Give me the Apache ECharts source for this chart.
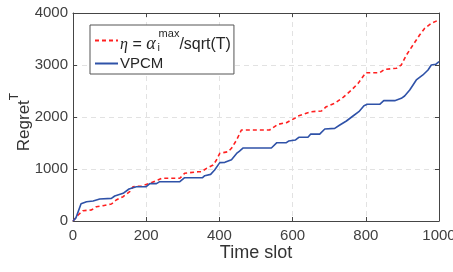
<!DOCTYPE html>
<html>
<head>
<meta charset="utf-8">
<script src="https://cdn.jsdelivr.net/npm/echarts@6/dist/echarts.min.js"></script>
<style>html,body{margin:0;padding:0;background:#fff;}#c{width:453px;height:272px;}</style>
</head>
<body>
<div id="c"></div>
<script>
var xTicks = [0, 200, 400, 600, 800, 1000];
var yTicks = [0, 1000, 2000, 3000, 4000];
var seriesNames = ['eta', 'VPCM'];

var etaX = [0,5,14,27,50,64,82,105,118,137,155,164,187,210,232,242,292,305,342,351,365,383,392,401,424,433,447,460,537,560,583,606,615,628,651,679,692,715,738,761,779,792,800,838,852,884,897,911,929,947,961,979,995,1000];
var etaY = [0,0,115,198,211,275,295,327,404,468,564,660,673,724,788,821,821,917,948,948,1013,1077,1173,1302,1333,1398,1558,1750,1750,1859,1891,1975,2019,2051,2102,2115,2198,2263,2378,2519,2647,2775,2852,2852,2917,2937,3000,3192,3385,3577,3705,3801,3852,3880];

var vpcmX = [0,8,22,37,55,73,105,114,137,153,173,200,210,228,237,292,305,354,360,376,387,401,415,419,433,447,455,465,542,557,583,589,608,617,642,649,674,688,715,729,747,765,781,786,795,804,838,849,879,897,906,920,938,956,970,979,991,1000];
var vpcmY = [0,60,330,370,385,423,436,481,533,615,660,660,718,718,756,756,833,833,872,897,980,1122,1128,1166,1180,1300,1346,1404,1404,1506,1506,1538,1558,1610,1610,1670,1670,1769,1782,1846,1923,2019,2102,2110,2217,2244,2244,2314,2314,2359,2404,2519,2712,2808,2904,3000,3013,3063];

function pairs(xs, ys) { return xs.map(function (x, i) { return [x, ys[i]]; }); }

var chart = echarts.init(document.getElementById('c'), null, {renderer: 'canvas'});
var font = 'Liberation Sans, Arial, Helvetica, sans-serif';
var serif = 'Liberation Serif, DejaVu Serif, serif';
var axisCol = '#454545';
var gridCol = '#e2e2e2';
var txt = '#262626';

function baseX(pos, show) {
  return {
    type: 'value', position: pos, min: xTicks[0], max: xTicks[xTicks.length - 1], interval: xTicks[1] - xTicks[0],
    axisLine: {show: true, onZero: false, lineStyle: {color: axisCol, width: 1}},
    axisTick: {show: true, inside: true, length: 4, lineStyle: {color: axisCol}},
    axisLabel: {show: show, color: '#404040', fontSize: 15, fontFamily: font, margin: 7,
      formatter: function (v) { return String(v); }},
    splitLine: {show: show, lineStyle: {color: gridCol, type: [5, 4], width: 1}}
  };
}
function baseY(pos, show) {
  return {
    type: 'value', position: pos, min: yTicks[0], max: yTicks[yTicks.length - 1], interval: yTicks[1] - yTicks[0],
    axisLine: {show: true, onZero: false, lineStyle: {color: axisCol, width: 1}},
    axisTick: {show: true, inside: true, length: 4, lineStyle: {color: axisCol}},
    axisLabel: {show: show, color: '#404040', fontSize: 15, fontFamily: font, margin: 5,
      formatter: function (v) { return String(v); }},
    splitLine: {show: show, lineStyle: {color: gridCol, type: [5, 4], width: 1}}
  };
}

var x0 = baseX('bottom', true);
x0.name = 'Time slot';
x0.nameLocation = 'middle';
x0.nameGap = 23;
x0.nameMoveOverlap = false;
x0.nameTextStyle = {color: '#333', fontSize: 18, fontFamily: font};
var x1 = baseX('top', false);

var y0 = baseY('left', true);
y0.name = '{a|Regret}{s|T}';
y0.nameLocation = 'middle';
y0.nameGap = 40;
y0.nameMoveOverlap = false;
y0.nameTextStyle = {
  color: '#333', fontFamily: font,
  rich: {
    a: {fontSize: 17, fontFamily: font, color: '#333', lineHeight: 24, verticalAlign: 'bottom'},
    s: {fontSize: 12, fontFamily: font, color: '#333', lineHeight: 24, verticalAlign: 'top', padding: [0, 10, 0, 0]}
  }
};
var y1 = baseY('right', false);

var etaLabel = '{t|η}{t2| = }{g|α}{sub|i}{sup|max}{t3|/sqrt(T)}';

var option = {
  animation: false,
  backgroundColor: '#fff',
  grid: {left: 73, right: 14, top: 13, bottom: 51, containLabel: false, outerBoundsMode: 'none'},
  xAxis: [x0, x1],
  yAxis: [y0, y1],
  legend: {
    orient: 'vertical', left: 90, top: 25,
    backgroundColor: '#fff', borderColor: '#555', borderWidth: 1, borderRadius: 0,
    padding: [3, 3, 3, 4], itemGap: 3, itemWidth: 23, itemHeight: 14,
    data: seriesNames,
    itemStyle: {opacity: 0},
    formatter: function (n) { return n === 'eta' ? etaLabel : n; },
    textStyle: {
      color: txt, fontSize: 15, fontFamily: font, padding: [0, 0, 0, -3],
      rich: {
        t: {fontSize: 16, fontFamily: serif, fontStyle: 'italic', color: txt, lineHeight: 25, verticalAlign: 'bottom'},
        t2: {fontSize: 16, fontFamily: font, color: txt, lineHeight: 25, verticalAlign: 'bottom'},
        g: {fontSize: 18, fontFamily: serif, fontStyle: 'italic', color: txt, lineHeight: 25, verticalAlign: 'bottom', padding: [0, 2, 0, 0]},
        sub: {fontSize: 11, fontFamily: font, color: txt, lineHeight: 22, verticalAlign: 'bottom', width: 1},
        sup: {fontSize: 11, fontFamily: font, color: txt, lineHeight: 25, verticalAlign: 'top'},
        t3: {fontSize: 16, fontFamily: font, color: txt, lineHeight: 25, verticalAlign: 'bottom'}
      }
    }
  },
  series: [
    {
      name: 'eta', type: 'line', data: pairs(etaX, etaY), showSymbol: false, symbol: 'none',
      lineStyle: {color: '#ff2020', width: 1.6, type: [4, 3]}, itemStyle: {color: '#ff2020'}, z: 3
    },
    {
      name: 'VPCM', type: 'line', data: pairs(vpcmX, vpcmY), showSymbol: false, symbol: 'none',
      lineStyle: {color: '#2f52a8', width: 1.6}, itemStyle: {color: '#2f52a8'}, z: 4
    }
  ]
};
chart.setOption(option);
</script>
</body>
</html>
